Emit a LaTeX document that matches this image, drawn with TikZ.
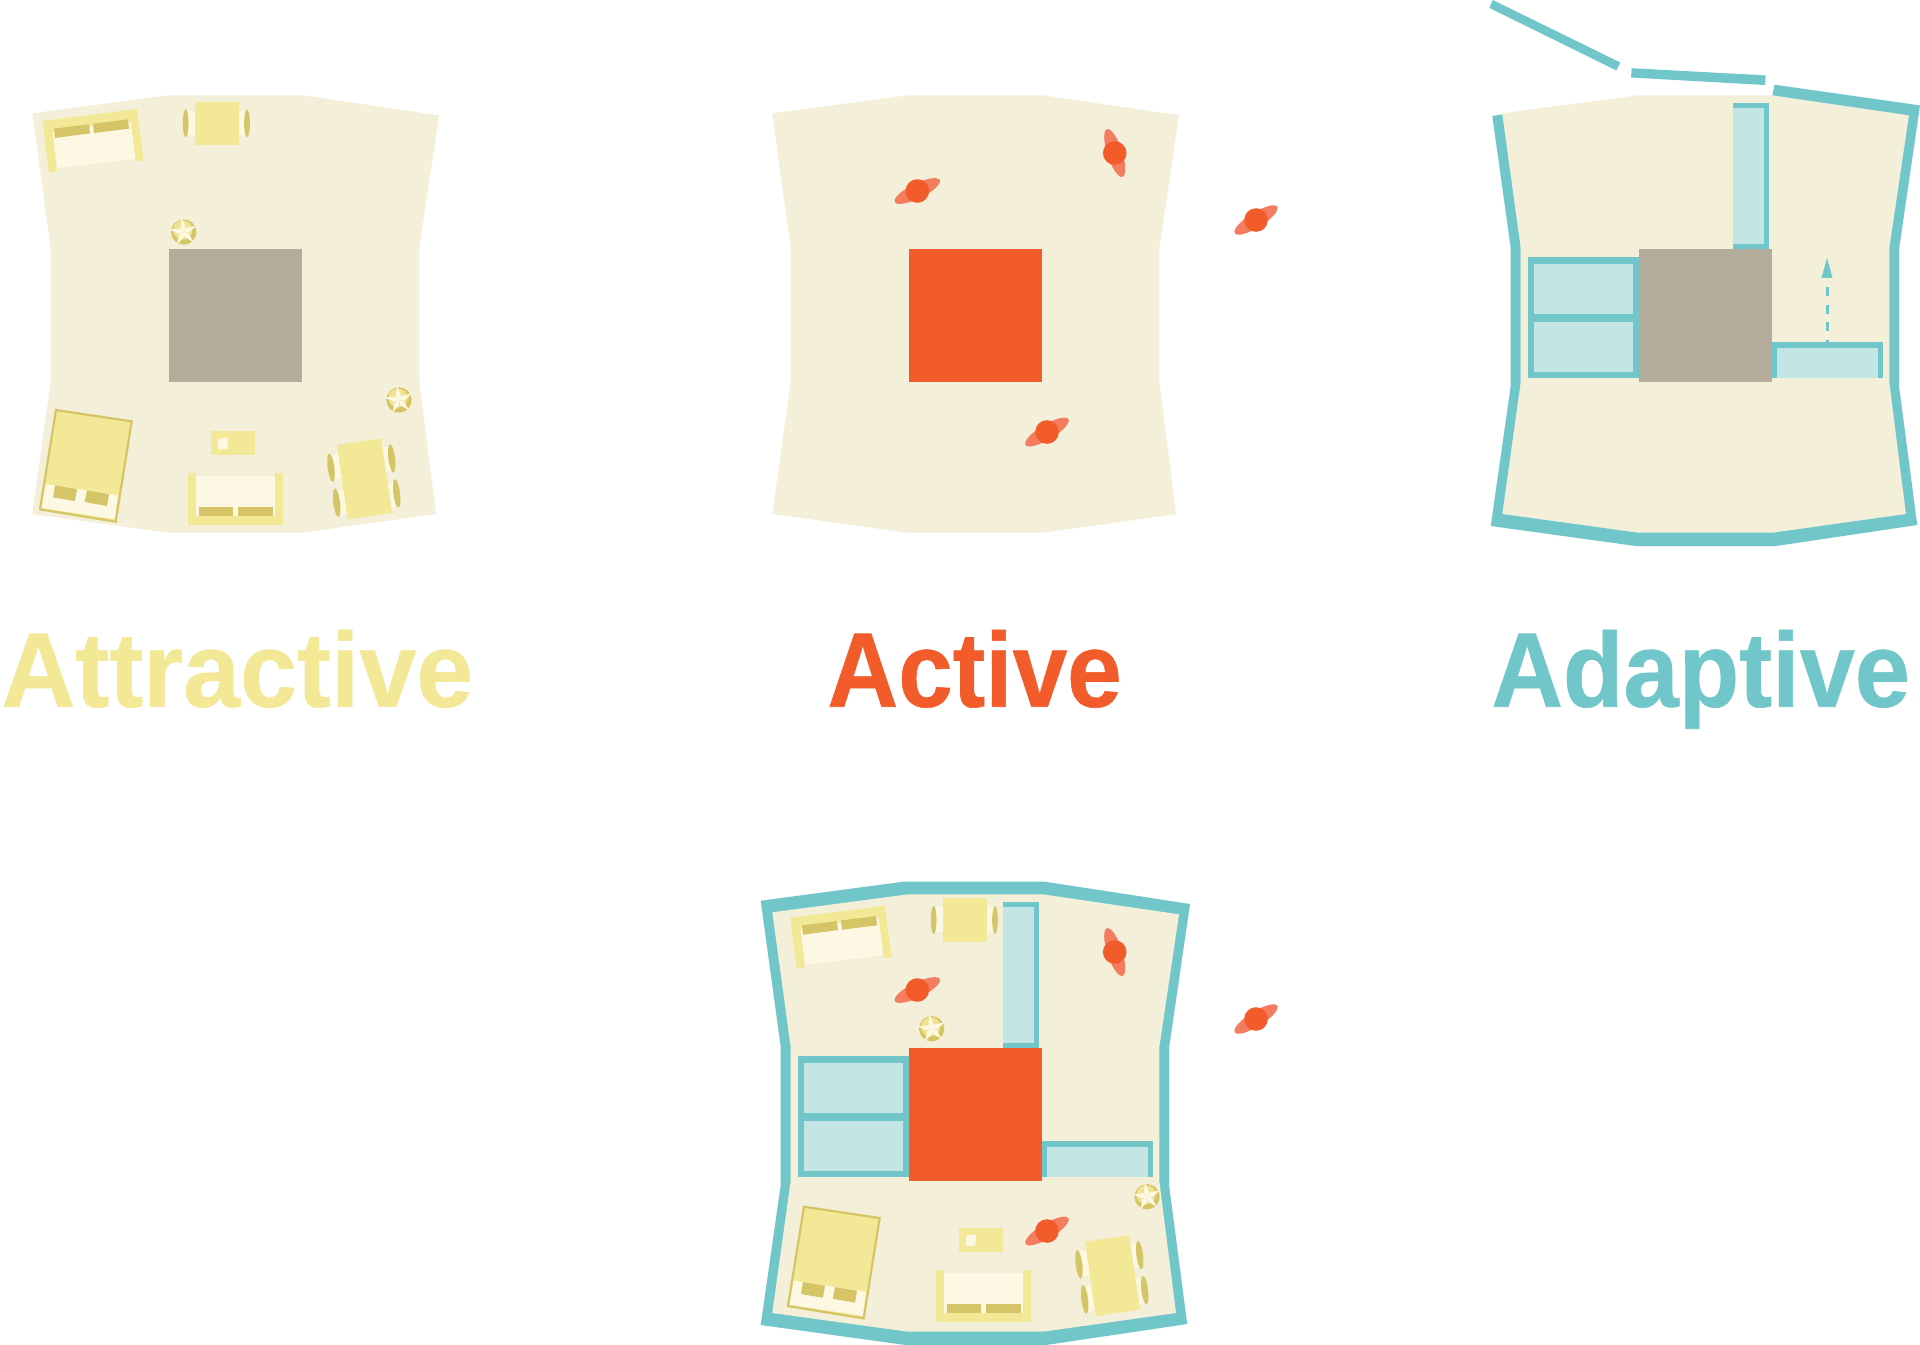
\documentclass[tikz,border=0pt]{standalone}
\usepackage{fontspec}
\newfontfamily\labelfont{Liberation Sans}[BoldFeatures={FakeBold=0.6}]
\definecolor{floorc}{HTML}{F4EFD9}
\definecolor{yel}{HTML}{F3E896}
\definecolor{dark}{HTML}{D6C566}
\definecolor{cream}{HTML}{FDF8E3}
\definecolor{corec}{HTML}{B3AC9A}
\definecolor{orange}{HTML}{F25B2A}
\definecolor{petal}{HTML}{F47C5F}
\definecolor{teal}{HTML}{70C6C9}
\definecolor{pale}{HTML}{C3E6E5}
\definecolor{leaf}{HTML}{F0E28F}
\tikzset{
  titletext/.style={anchor=base west,inner sep=0pt,font=\labelfont\fontsize{53pt}{53pt}\selectfont\bfseries},
}
\newcommand{\PlanFloor}{%
  \fill[floorc] (32.3,113.3)--(168,95.3)--(302.7,95.3)--(439,115.3)--(419.3,248.3)--(419.3,381.7)--(436,514)--(302.7,532.7)--(168,532.7)--(32.3,514)--(50.7,381.7)--(50.7,248.3)--cycle;}
\newcommand{\PlanPlant}[2]{%
  \begin{scope}[shift={(#1,#2)}]
    \fill[dark] (0,0) circle (38);
    \fill[leaf] (-3,-6) circle (29);
    \foreach \a in {98,170,242,314,26}{
      \fill[cream,rotate=\a] (0,0)--(13,-8)--(43,0)--(13,8)--cycle;}
  \end{scope}}
\newcommand{\PlanChair}[3]{\fill[dark,shift={(#1,#2)},rotate=#3] (0,0) ellipse (10 and 43);}
\newcommand{\PlanFurniture}{%
  % sofa, top left
  \fill[yel] (127,123)--(410,87)--(431,241)--(406,244)--(385,118)--(158,155)--(170,272)--(147,278)--cycle;
  \fill[cream] (158,155)--(392,125)--(406,236)--(172,264)--cycle;
  \fill[dark] (162,146)--(267,133)--(270,160)--(165,174)--cycle;
  \fill[dark] (279,131)--(384,118)--(387,146)--(282,159)--cycle;
  % desk
  \fill[cream] (563,92) rectangle (738,165);
  \fill[yel] (585,65) rectangle (718,195);
  \fill[dark] (557,130) ellipse (8.5 and 42);
  \fill[dark] (741,130) ellipse (8.5 and 42);
  % side table
  \fill[yel] (633,1053) rectangle (766,1125);
  \fill[cream] (655,1076)--(685,1072)--(682,1106)--(654,1108)--cycle;
  % couch
  \fill[cream] (587,1189) rectangle (825,1308);
  \fill[yel] (563,1179) rectangle (587,1336);
  \fill[yel] (825,1179) rectangle (850,1336);
  \fill[yel] (563,1308) rectangle (850,1336);
  \fill[dark] (596,1281) rectangle (700,1308);
  \fill[dark] (714,1281) rectangle (818,1308);
  % bed
  \filldraw[fill=yel,draw=dark,line width=1.1pt,line join=miter] (168,990)--(395,1024)--(347,1325)--(120,1288)--cycle;
  \fill[cream] (137,1212)--(354,1245)--(344,1317)--(125,1284)--cycle;
  \fill[dark] (165,1216)--(231,1227)--(225,1263)--(159,1252)--cycle;
  \fill[dark] (261,1231)--(327,1242)--(321,1278)--(254,1266)--cycle;
  % dining table
  \fill[cream] (993,1125)--(1018,1121)--(1030,1194)--(1005,1198)--cycle;
  \fill[cream] (1006,1232)--(1031,1228)--(1043,1301)--(1018,1305)--cycle;
  \fill[cream] (1147,1102)--(1172,1098)--(1184,1171)--(1159,1175)--cycle;
  \fill[cream] (1163,1209)--(1188,1205)--(1200,1278)--(1175,1282)--cycle;
  \fill[yel] (1011,1095)--(1143,1075)--(1176,1298)--(1043,1318)--cycle;
  \PlanChair{993}{1163}{7}\PlanChair{1010}{1268}{7}\PlanChair{1175}{1135}{7}\PlanChair{1190}{1240}{7}
  % plants
  \PlanPlant{551}{456}
  \PlanPlant{1197}{960}}
\newcommand{\PlanPerson}[3]{%
  \begin{scope}[shift={(#1,#2)}]
    \fill[petal,rotate=#3] (0,0) ellipse (25 and 7.5);
    \fill[orange] (0,0) circle (11.8);
  \end{scope}}
\newcommand{\PlanPeople}{%
  \PlanPerson{917.3}{191}{26}
  \PlanPerson{1114.7}{153}{108}
  \PlanPerson{1256}{220}{32}
  \PlanPerson{1047}{432}{31}}
\newcommand{\PlanCabinets}{%
  \fill[teal] (1527.7,257) rectangle (1640,378);
  \fill[pale] (1533.7,263.6) rectangle (1633.3,314.3);
  \fill[pale] (1533.7,322) rectangle (1633.3,372);
  \fill[teal] (1732.7,102.5) rectangle (1769,250);
  \fill[pale] (1732.7,107.9) rectangle (1763.7,244.3);
  \fill[teal] (1771,342) rectangle (1882.7,378);
  \fill[pale] (1776.7,347.9) rectangle (1877.7,378);}
\begin{document}
\begin{tikzpicture}[x=0.5pt,y=-0.5pt]
  \fill[white] (0,0) rectangle (1920,1344);
  \clip (0,0) rectangle (1920,1344);

  % Attractive
  \PlanFloor
  \fill[corec] (169,249.3) rectangle (302.3,382.3);
  \begin{scope}[shift={(0,80)},x=0.16667pt,y=-0.16667pt]
    \PlanFurniture
  \end{scope}
  \node[titletext,text=yel] (attractive) at (1,706.7) {\scalebox{0.965}[1]{Attractive}};

  % Active
  \begin{scope}[shift={(740,0)}]
    \PlanFloor
    \fill[orange] (169,249.3) rectangle (302.3,382.3);
  \end{scope}
  \PlanPeople
  \node[titletext,text=orange] (active) at (827,706.7) {\scalebox{0.925}[1]{Active}};

  % Adaptive
  \begin{scope}[shift={(1470,0)}]
    \PlanFloor
  \end{scope}
  \fill[teal] (1774.5,84.7)--(1920,105.4)--(1899.2,248)--(1899.2,387.5)--(1917.2,525)--(1776,546)--(1635.7,546)--(1490.7,526)--(1510.5,387.5)--(1510.5,246.4)--(1492.3,116)--(1502.3,114.3)--(1520.7,248.3)--(1520.7,381.7)--(1502.3,514)--(1638,532.7)--(1772.7,532.7)--(1906,514)--(1889.3,381.7)--(1889.3,248.3)--(1909,115.3)--(1772.3,95.3)--cycle;
  \fill[teal] (1492.7,0)--(1489.3,7.9)--(1616.3,70.4)--(1620.3,62.5)--cycle;
  \fill[teal] (1631.7,68.2)--(1631,77.5)--(1765,85)--(1765.7,75.4)--cycle;
  \PlanCabinets
  \fill[corec] (1639.3,249.3) rectangle (1772.3,382.3);
  \coordinate (arrowfoot) at (1827,342);
  \coordinate (arrowtip) at (1827,257.9);
  \coordinate (arrowneck) at (1827,287);
  \draw[teal,line width=1.5pt,dash pattern=on 4.6pt off 4.2pt] (arrowneck)--(arrowfoot);
  \fill[teal] (arrowtip)--(1832.5,277.9)--(1821.5,277.9)--cycle;
  \node[titletext,text=teal] (adaptive) at (1491,706.7) {\scalebox{0.935}[1]{Adaptive}};

  % Combined
  \fill[teal] (760.7,900.7)--(903.3,881.7)--(1045,881.7)--(1190,904)--(1169.2,1047)--(1169.2,1186.5)--(1187.2,1324)--(1046,1345)--(905.7,1345)--(760.7,1325)--(780.5,1186.5)--(780.5,1045.4)--cycle;
  \begin{scope}[shift={(740,799)}]
    \PlanFloor
  \end{scope}
  \begin{scope}[shift={(-730,799)}]
    \PlanCabinets
  \end{scope}
  \begin{scope}[shift={(748,876.7)},x=0.16667pt,y=-0.16667pt]
    \PlanFurniture
  \end{scope}
  \fill[orange] (909,1048.3) rectangle (1042,1181.3);
  \begin{scope}[shift={(0,799)}]
    \PlanPeople
  \end{scope}
\end{tikzpicture}
\end{document}
